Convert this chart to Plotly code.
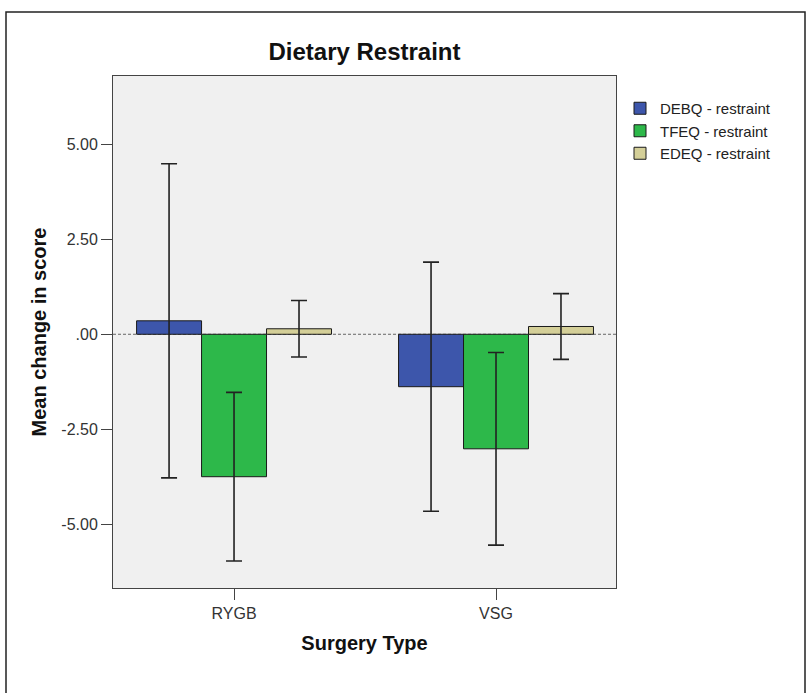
import plotly.graph_objects as go

# Surgery groups and mean change in restraint score (with 95% CI half-widths)
surgery = ["RYGB", "VSG"]
measures = ["DEBQ - restraint", "TFEQ - restraint", "EDEQ - restraint"]
debq_mean = [0.355, -1.38]
debq_ci = [4.135, 3.28]
tfeq_mean = [-3.75, -3.015]
tfeq_ci = [2.22, 2.535]
edeq_mean = [0.145, 0.205]
edeq_ci = [0.745, 0.865]
y_ticks = [-5.0, -2.5, 0.0, 2.5, 5.0]
y_tick_labels = ["-5.00", "-2.50", ".00", "2.50", "5.00"]

colors = ["#3d56ab", "#2db84a", "#d4cf98"]
series = [(debq_mean, debq_ci), (tfeq_mean, tfeq_ci), (edeq_mean, edeq_ci)]

FONT = "Liberation Sans, Arial, sans-serif"

fig = go.Figure()
for name, (means, ci), col in zip(measures, series, colors):
    fig.add_trace(go.Bar(
        x=surgery,
        y=means,
        name=name,
        marker=dict(color=col, line=dict(color="#1a1a1a", width=1)),
        error_y=dict(type="data", array=ci, visible=True,
                     color="#222222", thickness=1.6, width=8),
    ))

# zero reference line
fig.add_shape(type="line", xref="paper", yref="y", x0=0, x1=1, y0=0, y1=0,
              line=dict(color="#666666", width=1, dash="3px,2px"), layer="below")

# outer frame around the whole chart
fig.add_shape(type="rect", xref="paper", yref="paper",
              x0=(6 - 113) / 503, x1=(805 - 113) / 503,
              y0=(588 - 720) / 512, y1=(588 - 12) / 512,
              line=dict(color="#222222", width=1.5), fillcolor="rgba(0,0,0,0)")

fig.update_layout(
    width=807, height=693,
    margin=dict(l=113, r=191, t=76, b=105),
    paper_bgcolor="white",
    plot_bgcolor="#f0f0f0",
    barmode="group",
    bargap=0.256,
    bargroupgap=0,
    font=dict(family=FONT, size=16, color="#222222"),
    title=dict(text="<b>Dietary Restraint</b>", x=(364.5 / 807), xanchor="center",
               y=1 - 52 / 693, yanchor="middle",
               font=dict(family=FONT, size=24, color="#111111")),
    showlegend=True,
    legend=dict(x=(620 - 113) / 503, xanchor="left", y=(588 - 92) / 512, yanchor="top",
                bgcolor="rgba(0,0,0,0)", font=dict(family=FONT, size=15, color="#222222"),
                itemwidth=30, tracegroupgap=0),
    xaxis=dict(
        range=[-0.462, 1.458],
        showline=True, mirror=True, linecolor="#444444", linewidth=1,
        ticks="outside", ticklen=11, tickcolor="#444444",
        showgrid=False, zeroline=False,
        tickfont=dict(family=FONT, size=16, color="#333333"),
        title=dict(text="<b>Surgery Type</b>", standoff=14,
                   font=dict(family=FONT, size=20, color="#111111")),
    ),
    yaxis=dict(
        range=[-6.68, 6.8],
        tickmode="array", tickvals=y_ticks, ticktext=y_tick_labels,
        showline=True, mirror=True, linecolor="#444444", linewidth=1,
        ticks="outside", ticklen=11, tickcolor="#444444",
        showgrid=False, zeroline=False,
        tickfont=dict(family=FONT, size=16, color="#333333"),
        title=dict(text="<b>Mean change in score</b>", standoff=9,
                   font=dict(family=FONT, size=20, color="#111111")),
    ),
)

fig.write_html("out.html")
